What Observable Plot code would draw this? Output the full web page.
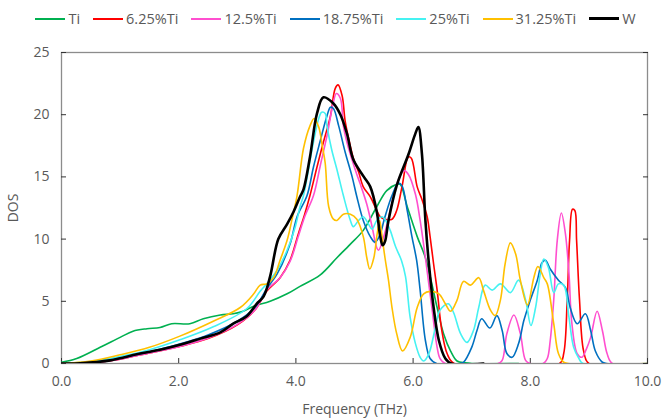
<!DOCTYPE html>
<html>
<head>
<meta charset="utf-8">
<script src="https://cdn.jsdelivr.net/npm/d3@7"></script>
<script src="https://cdn.jsdelivr.net/npm/@observablehq/plot@0.6"></script>
<style>
  html, body { margin: 0; padding: 0; background: #fff; }
  body { width: 663px; height: 420px; overflow: hidden; font-family: "Open Sans", sans-serif; }
  #legend { height: 37px; display: flex; justify-content: center; align-items: center; gap: 13px; font-size: 14.5px; color: #595959; padding-left: 8px; box-sizing: border-box; }
  .item { display: flex; align-items: center; gap: 3px; }
  .sw { width: 30px; height: 0; border-top-style: solid; }
</style>
</head>
<body>
<div id="legend"></div>
<div id="chart"></div>
<script>
// Series names and colours
const seriesNames = ["Ti", "6.25%Ti", "12.5%Ti", "18.75%Ti", "25%Ti", "31.25%Ti", "W"];
const seriesColors = ["#00B050", "#FF0000", "#FF4FCF", "#0070C0", "#45F2F2", "#FFC000", "#000000"];

// Ticks
const xTicks = [0, 2, 4, 6, 8, 10];
const yTicks = [0, 5, 10, 15, 20, 25];

// [frequency THz, DOS] for each series
const ti = [[0,0.1],[0.26,0.4],[0.66,1.3],[1.0,2.1],[1.22,2.6],[1.46,2.8],[1.68,2.9],[1.88,3.2],[2.19,3.2],[2.42,3.6],[2.71,3.9],[2.93,4.0],[3.1,4.2],[3.28,4.6],[3.56,5.0],[3.85,5.6],[4.07,6.2],[4.41,7.1],[4.7,8.5],[4.93,9.6],[5.15,10.7],[5.38,12.6],[5.55,13.9],[5.72,14.4],[5.78,14.4],[5.9,12.6],[6.07,10.2],[6.21,8.5],[6.41,4.5],[6.52,2.4],[6.64,1.0],[6.75,0.2],[6.89,0.05],[7.0,0],[7.8,0]];

const ti625 = [[0,0],[0.5,0.05],[1.0,0.35],[1.5,0.85],[2.0,1.35],[2.5,2.0],[3.0,3.1],[3.3,4.3],[3.5,5.8],[3.73,6.9],[3.9,8.3],[4.04,10.4],[4.15,12.0],[4.24,13.5],[4.36,15.8],[4.47,17.8],[4.59,19.9],[4.67,22.1],[4.72,22.4],[4.79,21.5],[4.84,19.5],[4.9,18.1],[4.98,16.5],[5.07,15.4],[5.15,14.2],[5.27,13.4],[5.38,12.3],[5.44,11.8],[5.52,11.6],[5.64,11.6],[5.72,12.3],[5.81,14.2],[5.92,16.6],[5.97,16.5],[6.07,14.2],[6.15,13.2],[6.24,11.8],[6.29,10.2],[6.35,8.0],[6.41,5.9],[6.49,2.65],[6.58,0.8],[6.7,0],[8.5,0],[8.57,0.8],[8.63,5.1],[8.67,9.9],[8.72,12.4],[8.76,12.3],[8.79,9.9],[8.84,5.1],[8.91,1.0],[9.0,0],[10,0]];

const ti125 = [[0,0],[0.5,0.05],[1.0,0.35],[1.5,0.85],[2.0,1.35],[2.5,2.05],[3.0,3.15],[3.3,4.3],[3.5,5.9],[3.73,6.9],[3.9,8.2],[4.04,10.2],[4.15,11.8],[4.3,13.5],[4.42,16.0],[4.53,18.3],[4.64,21.0],[4.69,21.7],[4.76,21.3],[4.81,19.1],[4.87,17.8],[4.93,16.8],[5.04,15.2],[5.1,14.4],[5.21,12.8],[5.3,11.0],[5.38,9.3],[5.41,9.1],[5.5,10.2],[5.61,12.3],[5.72,14.4],[5.84,15.5],[5.92,15.2],[6.04,13.6],[6.12,11.5],[6.21,8.5],[6.32,4.5],[6.41,1.3],[6.46,0.4],[6.55,0],[7.45,0],[7.52,0.25],[7.6,2.4],[7.72,3.9],[7.83,2.4],[7.92,0.25],[8.0,0],[8.22,0],[8.29,0.4],[8.34,1.85],[8.4,5.1],[8.46,9.9],[8.53,12.1],[8.6,10.4],[8.66,7.2],[8.71,3.2],[8.8,0.8],[8.88,0.5],[8.96,1.2],[9.03,2.1],[9.14,4.2],[9.23,2.65],[9.31,0.8],[9.4,0],[10,0]];

const ti1875 = [[0,0],[0.5,0.1],[1.0,0.45],[1.5,0.95],[2.0,1.55],[2.5,2.3],[3.0,3.4],[3.3,4.5],[3.5,6.0],[3.68,7.2],[3.9,9.6],[4.02,11.8],[4.19,13.5],[4.3,15.8],[4.41,17.8],[4.53,19.9],[4.59,20.6],[4.64,20.5],[4.73,19.1],[4.84,17.0],[4.96,15.0],[5.04,13.4],[5.15,11.5],[5.27,10.2],[5.35,9.75],[5.43,10.3],[5.52,11.8],[5.64,13.5],[5.75,14.5],[5.81,14.3],[5.9,12.3],[5.98,10.2],[6.06,8.3],[6.12,5.9],[6.21,1.85],[6.29,0.4],[6.4,0],[6.8,0],[6.86,0.1],[7.0,1.3],[7.09,2.65],[7.17,3.6],[7.31,2.85],[7.43,3.85],[7.52,2.65],[7.6,0.8],[7.69,0.5],[7.8,1.6],[7.89,3.45],[8.0,5.1],[8.12,6.7],[8.2,8.1],[8.26,8.3],[8.34,7.6],[8.48,6.7],[8.6,6.1],[8.68,4.5],[8.8,3.2],[8.94,4.0],[9.03,2.65],[9.11,1.0],[9.23,0.1],[9.3,0],[10,0]];

const ti25 = [[0,0],[0.5,0.15],[1.0,0.55],[1.5,1.1],[2.02,1.9],[2.59,2.95],[3.16,4.4],[3.39,5.8],[3.5,6.4],[3.68,7.5],[3.85,9.1],[3.99,11.0],[4.07,12.6],[4.13,13.5],[4.3,17.8],[4.39,19.7],[4.44,20.2],[4.5,20.1],[4.53,19.1],[4.61,17.2],[4.7,15.6],[4.81,13.5],[4.93,11.5],[4.98,11.0],[5.07,11.5],[5.15,11.8],[5.24,11.2],[5.3,10.8],[5.38,11.5],[5.47,11.8],[5.52,11.6],[5.61,10.7],[5.7,9.4],[5.8,8.3],[5.87,7.0],[5.95,3.7],[6.04,1.6],[6.12,0.5],[6.18,0.2],[6.27,0.8],[6.38,2.9],[6.46,4.3],[6.6,4.8],[6.69,4.1],[6.81,2.4],[6.92,1.7],[7.03,2.65],[7.12,4.5],[7.23,6.3],[7.35,5.9],[7.49,6.4],[7.66,5.7],[7.8,6.7],[7.92,5.1],[8.01,3.05],[8.09,4.5],[8.17,7.2],[8.23,8.4],[8.31,7.7],[8.4,5.7],[8.48,6.4],[8.57,6.3],[8.66,3.7],[8.74,1.3],[8.83,0.4],[8.9,0],[10,0]];

const ti3125 = [[0,0],[0.5,0.2],[1.0,0.7],[1.5,1.3],[2.02,2.2],[2.59,3.4],[3.05,4.5],[3.28,5.6],[3.39,6.3],[3.5,6.4],[3.62,6.9],[3.73,8.3],[3.85,9.9],[3.93,11.5],[4.02,13.5],[4.13,17.3],[4.24,19.1],[4.31,19.7],[4.39,19.0],[4.45,17.5],[4.5,16.1],[4.56,12.6],[4.64,11.6],[4.7,11.5],[4.81,12.0],[4.93,12.0],[5.04,11.6],[5.15,10.2],[5.21,8.5],[5.26,7.6],[5.33,8.5],[5.38,10.2],[5.43,11.5],[5.47,10.2],[5.52,8.5],[5.58,6.7],[5.64,4.5],[5.72,2.4],[5.82,1.0],[5.95,2.1],[6.07,4.5],[6.18,5.6],[6.29,5.8],[6.44,5.6],[6.55,4.8],[6.64,4.2],[6.75,5.1],[6.86,6.6],[6.98,6.3],[7.12,6.9],[7.2,5.9],[7.32,4.3],[7.4,3.85],[7.49,5.1],[7.57,8.0],[7.66,9.7],[7.75,8.8],[7.83,6.7],[7.95,4.7],[8.06,6.9],[8.13,7.8],[8.23,6.9],[8.29,6.4],[8.4,3.2],[8.48,0.8],[8.57,0.1],[8.65,0],[10,0]];

const w = [[0,0],[0.32,0.02],[0.83,0.25],[1.34,0.8],[1.68,1.1],[2.02,1.5],[2.37,2.0],[2.71,2.5],[2.93,3.2],[3.16,3.8],[3.33,4.8],[3.45,5.4],[3.56,7.0],[3.7,10.0],[3.85,11.2],[3.96,12.2],[4.07,13.4],[4.13,14.0],[4.24,16.6],[4.36,20.1],[4.47,21.4],[4.64,20.9],[4.76,20.0],[4.87,18.5],[4.98,16.4],[5.16,15.0],[5.27,14.2],[5.38,12.2],[5.44,10.2],[5.48,9.5],[5.52,9.8],[5.58,11.5],[5.72,14.3],[5.92,16.8],[6.04,18.5],[6.09,19.0],[6.15,16.9],[6.21,11.5],[6.27,8.0],[6.35,4.5],[6.44,1.85],[6.55,0.4],[6.65,0],[7.2,0]];

const seriesData = [ti, ti625, ti125, ti1875, ti25, ti3125, w];

const rows = [];
seriesData.forEach((arr, i) => arr.forEach(([f, d]) => rows.push({series: seriesNames[i], f, d})));

// legend
const legend = document.getElementById("legend");
seriesNames.forEach((n, i) => {
  const it = document.createElement("div");
  it.className = "item";
  const sw = document.createElement("div");
  sw.className = "sw";
  sw.style.borderTopColor = seriesColors[i];
  sw.style.borderTopWidth = (n === "W" ? 3 : 2) + "px";
  const t = document.createElement("span");
  t.textContent = n;
  it.appendChild(sw); it.appendChild(t);
  legend.appendChild(it);
});

const plot = Plot.plot({
  width: 663,
  height: 383,
  marginLeft: 61,
  marginRight: 16,
  marginTop: 15,
  marginBottom: 57,
  style: {fontFamily: "Open Sans, sans-serif", fontSize: "14px", color: "#595959", background: "#fff"},
  x: {domain: [0, 10]},
  y: {domain: [0, 25]},
  color: {domain: seriesNames, range: seriesColors},
  marks: [
    Plot.frame({stroke: "#8c8c8c", strokeWidth: 1.3}),
    Plot.axisX({ticks: xTicks, tickSize: -5, text: null, stroke: "#333", label: null}),
    Plot.axisX({ticks: xTicks, tickSize: 0, tickPadding: 13, tickFormat: d3.format(".1f"), fill: "#595959",
      label: "Frequency (THz)", labelAnchor: "center", labelArrow: "none", labelOffset: 50}),
    Plot.axisY({ticks: yTicks, tickSize: -5, text: null, stroke: "#333", label: null}),
    Plot.axisY({ticks: yTicks, anchor: "right", tickSize: -5, text: null, stroke: "#333", label: null}),
    Plot.axisY({ticks: yTicks, tickSize: 0, tickPadding: 12, fill: "#595959",
      label: "DOS", labelAnchor: "center", labelArrow: "none", labelOffset: 53}),
    Plot.line(rows, {x: "f", y: "d", z: "series", stroke: "series", clip: true,
      strokeWidth: d => d.series === "W" ? 2.6 : 1.6, curve: "catmull-rom"})
  ]
});
document.getElementById("chart").appendChild(plot);
</script>
</body>
</html>
